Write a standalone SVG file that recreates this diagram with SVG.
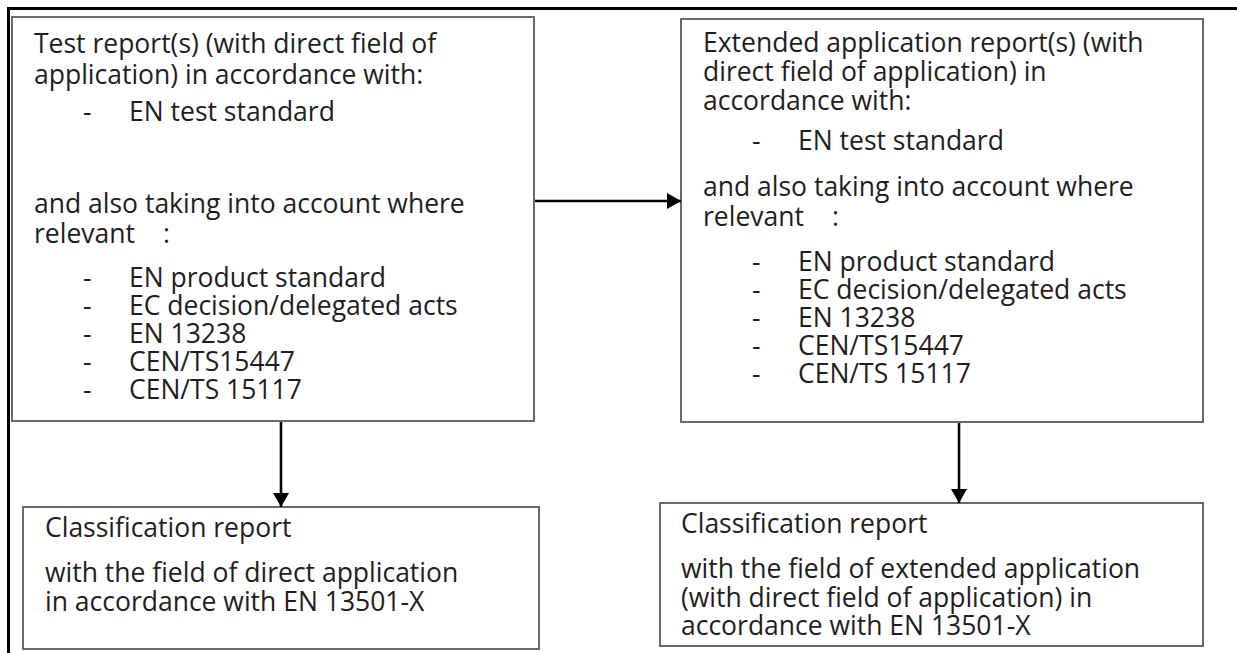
<svg xmlns="http://www.w3.org/2000/svg" width="1237" height="653" viewBox="0 0 1237 653">
<style>
.frame{stroke:#000;stroke-width:3;fill:none}
.box{fill:#fff;stroke:#6a6a6a;stroke-width:2}
.t{font-family:"Open Sans","Noto Sans","Liberation Sans",sans-serif;font-size:26.5px;fill:#1e1e1e}
.conn{stroke:#000;stroke-width:2.6;fill:none}
</style>
<defs>
<marker id="ah" markerUnits="userSpaceOnUse" markerWidth="16" markerHeight="18" refX="14" refY="8" orient="auto">
<path d="M0,0 L14,8 L0,16 Z" fill="#000"/>
</marker>
</defs>
<rect width="1237" height="653" fill="#fff"/>
<g id="frame">
<line class="frame" x1="7" y1="8.5" x2="1237" y2="8.5"/>
<line class="frame" x1="8.5" y1="7" x2="8.5" y2="653"/>
</g>
<g id="node-test-report">
<rect class="box" x="12" y="17" width="522" height="404"/>
<text class="t" x="34" y="53">Test report(s) (with direct field of</text>
<text class="t" x="34" y="84">application) in accordance with:</text>
<text class="t" x="83" y="121">-</text><text class="t" x="129" y="121">EN test standard</text>
<text class="t" x="34" y="213">and also taking into account where</text>
<text class="t" x="34" y="243">relevant</text><text class="t" x="163" y="243">:</text>
<text class="t" x="83" y="287">-</text><text class="t" x="129" y="287">EN product standard</text>
<text class="t" x="83" y="315">-</text><text class="t" x="129" y="315">EC decision/delegated acts</text>
<text class="t" x="83" y="343">-</text><text class="t" x="129" y="343">EN 13238</text>
<text class="t" x="83" y="371">-</text><text class="t" x="129" y="371">CEN/TS15447</text>
<text class="t" x="83" y="399">-</text><text class="t" x="129" y="399">CEN/TS 15117</text>
</g>
<g id="node-extended-report">
<rect class="box" x="681" y="19" width="522" height="403"/>
<text class="t" x="703" y="52">Extended application report(s) (with</text>
<text class="t" x="703" y="81">direct field of application) in</text>
<text class="t" x="703" y="110">accordance with:</text>
<text class="t" x="752" y="150">-</text><text class="t" x="798" y="150">EN test standard</text>
<text class="t" x="703" y="196">and also taking into account where</text>
<text class="t" x="703" y="226">relevant</text><text class="t" x="832" y="226">:</text>
<text class="t" x="752" y="271">-</text><text class="t" x="798" y="271">EN product standard</text>
<text class="t" x="752" y="299">-</text><text class="t" x="798" y="299">EC decision/delegated acts</text>
<text class="t" x="752" y="327">-</text><text class="t" x="798" y="327">EN 13238</text>
<text class="t" x="752" y="355">-</text><text class="t" x="798" y="355">CEN/TS15447</text>
<text class="t" x="752" y="383">-</text><text class="t" x="798" y="383">CEN/TS 15117</text>
</g>
<g id="node-classification-direct">
<rect class="box" x="23" y="507" width="516" height="142"/>
<text class="t" x="45" y="537">Classification report</text>
<text class="t" x="45" y="582">with the field of direct application</text>
<text class="t" x="45" y="611">in accordance with EN 13501-X</text>
</g>
<g id="node-classification-extended">
<rect class="box" x="660" y="503" width="543" height="143"/>
<text class="t" x="681" y="533">Classification report</text>
<text class="t" x="681" y="578">with the field of extended application</text>
<text class="t" x="681" y="607">(with direct field of application) in</text>
<text class="t" x="681" y="635">accordance with EN 13501-X</text>
</g>
<g id="connectors">
<line class="conn" x1="535" y1="201" x2="681" y2="201" marker-end="url(#ah)"/>
<line class="conn" x1="281" y1="422" x2="281" y2="507" marker-end="url(#ah)"/>
<line class="conn" x1="959" y1="423" x2="959" y2="503" marker-end="url(#ah)"/>
</g>
</svg>
